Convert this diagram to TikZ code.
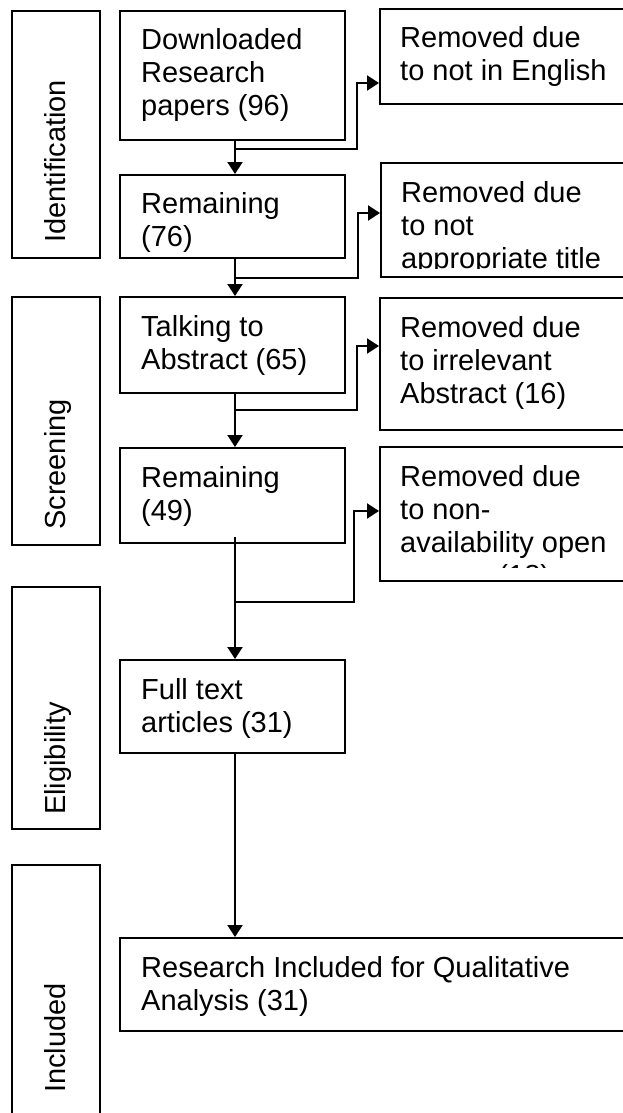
\documentclass[tikz,border=0pt]{standalone}
\usepackage{fontspec}
\setmainfont{Liberation Sans}
\usetikzlibrary{arrows.meta}
\begin{document}
\begin{tikzpicture}[x=1pt,y=-1pt,
  box/.style={draw=black, line width=2pt, rectangle, inner sep=0pt, anchor=north west},
  txt/.style={anchor=base west, align=left, inner sep=0pt, font=\fontsize{29}{33}\selectfont},
  vtxt/.style={anchor=base west, rotate=90, inner sep=0pt, font=\fontsize{29}{33}\selectfont},
  arr/.style={line width=2pt, -{Triangle[width=15pt,length=12pt]}},
  ln/.style={line width=2pt}]
\useasboundingbox (0,0) rectangle (622,1113);

% stage boxes
\node[box, minimum width=88, minimum height=247] (id) at (11,10) {};
\node[box, minimum width=88, minimum height=248] (sc) at (11,296) {};
\node[box, minimum width=88, minimum height=242] (el) at (11,586) {};
\node[box, minimum width=88, minimum height=260] (in) at (11,864) {};
\node[vtxt] (idt) at (65.5,243) {Identification};
\node[vtxt] (sct) at (65.5,530) {Screening};
\node[vtxt] (elt) at (65.5,815) {Eligibility};
\node[vtxt] (int) at (65.5,1093) {Included};

% main boxes
\node[box, minimum width=225, minimum height=129] (b1) at (119,10) {};
\node[box, minimum width=225, minimum height=83] (b2) at (119,174) {};
\node[box, minimum width=225, minimum height=96] (b3) at (119,296) {};
\node[box, minimum width=225, minimum height=95] (b4) at (119,447) {};
\node[box, minimum width=225, minimum height=93] (b5) at (119,659) {};
\node[box, minimum width=530, minimum height=93] (b6) at (119,937) {};
% removed boxes
\node[box, minimum width=270, minimum height=95] (r1) at (379,8) {};
\node[box, minimum width=270, minimum height=114] (r2) at (380,162) {};
\node[box, minimum width=270, minimum height=132] (r3) at (379,297) {};
\node[box, minimum width=270, minimum height=134] (r4) at (379,446) {};

% texts (anchored at the baseline of their last line), clipped to the inner area of each box
\begin{scope}\clip (b1.north west) rectangle ([yshift=10pt]b1.south east);
\node[txt] (b1t) at ([xshift=22pt,yshift=-106pt]b1.north west) {Downloaded\\Research\\papers (96)};
\end{scope}
\begin{scope}\clip (b2.north west) rectangle ([yshift=8pt]b2.south east);
\node[txt] (b2t) at ([xshift=22pt,yshift=-72pt]b2.north west) {Remaining\\(76)};
\end{scope}
\begin{scope}\clip (b3.north west) rectangle ([yshift=10pt]b3.south east);
\node[txt] (b3t) at ([xshift=22pt,yshift=-73pt]b3.north west) {Talking to\\Abstract (65)};
\end{scope}
\begin{scope}\clip (b4.north west) rectangle ([yshift=10pt]b4.south east);
\node[txt] (b4t) at ([xshift=22pt,yshift=-73pt]b4.north west) {Remaining\\(49)};
\end{scope}
\begin{scope}\clip (b5.north west) rectangle ([yshift=10pt]b5.south east);
\node[txt] (b5t) at ([xshift=22pt,yshift=-73pt]b5.north west) {Full text\\articles (31)};
\end{scope}
\begin{scope}\clip (b6.north west) rectangle ([yshift=10pt]b6.south east);
\node[txt] (b6t) at ([xshift=22pt,yshift=-73pt]b6.north west) {Research Included for Qualitative\\Analysis (31)};
\end{scope}
\begin{scope}\clip (r1.north west) rectangle ([yshift=10pt]r1.south east);
\node[txt] (r1t) at ([xshift=21pt,yshift=-73pt]r1.north west) {Removed due\\to not in English};
\end{scope}
\begin{scope}\clip (r2.north west) rectangle ([yshift=10pt]r2.south east);
\node[txt] (r2t) at ([xshift=21pt,yshift=-106pt]r2.north west) {Removed due\\to not\\appropriate title};
\end{scope}
\begin{scope}\clip (r3.north west) rectangle ([yshift=10pt]r3.south east);
\node[txt] (r3t) at ([xshift=21pt,yshift=-106pt]r3.north west) {Removed due\\to irrelevant\\Abstract (16)};
\end{scope}
\begin{scope}\clip (r4.north west) rectangle ([yshift=14.5pt]r4.south east);
\node[txt] (r4t) at ([xshift=21pt,yshift=-139pt]r4.north west) {Removed due\\to non-\\availability open\\access (18)};
\end{scope}

% connectors
\coordinate (j1) at (235,149); \coordinate (k1) at (357,83);
\coordinate (j2) at (235,278); \coordinate (k2) at (358,213);
\coordinate (j3) at (235,410); \coordinate (k3) at (357,346);
\coordinate (s4) at (235,537);
\coordinate (j4) at (235,602); \coordinate (k4) at (354,511);

\draw[arr] (b1.south -| j1) -- (b2.north -| j1);
\draw[arr] (j1) -| (k1) -- (k1 -| r1.west);
\draw[arr] (b2.south -| j2) -- (b3.north -| j2);
\draw[arr] (j2) -| (k2) -- (k2 -| r2.west);
\draw[arr] (b3.south -| j3) -- (b4.north -| j3);
\draw[arr] (j3) -| (k3) -- (k3 -| r3.west);
\draw[arr] (s4) -- (b5.north -| s4);
\draw[arr] (j4) -| (k4) -- (k4 -| r4.west);
\draw[arr] (b5.south -| s4) -- (b6.north -| s4);
\end{tikzpicture}
\end{document}
